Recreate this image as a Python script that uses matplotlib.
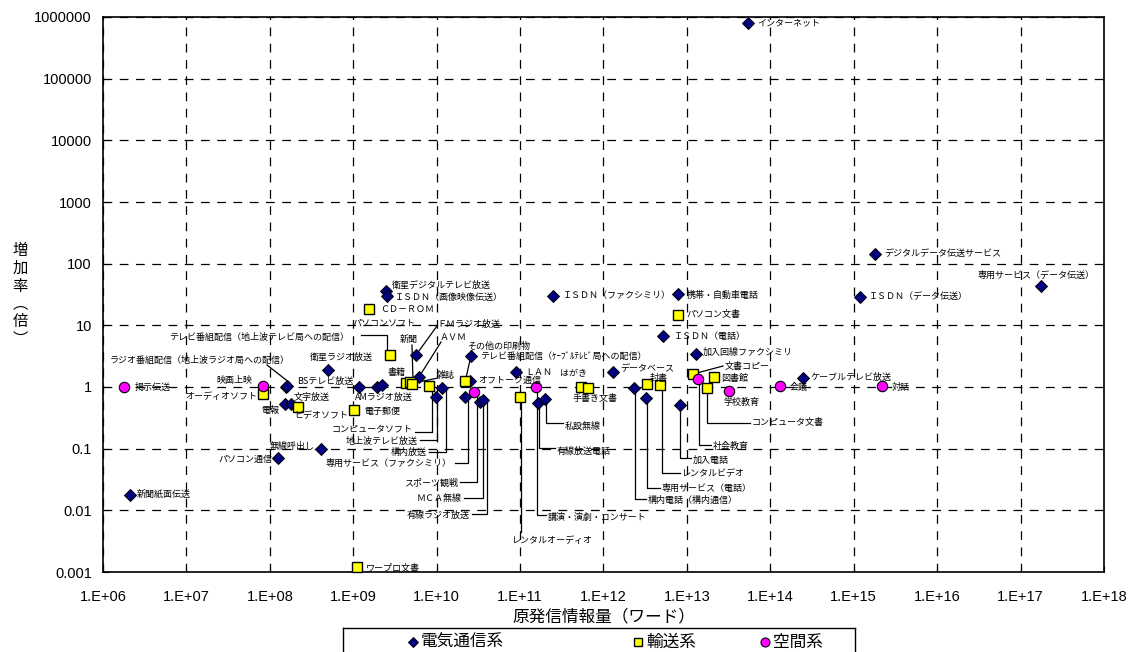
import matplotlib
matplotlib.use('Agg')
import matplotlib.pyplot as plt

plt.rcParams['font.family'] = ['Noto Sans CJK JP', 'DejaVu Sans']

# 電気通信系
tele_names = ['新聞紙面伝送', 'パソコン通信', '電報', 'BSテレビ放送',
              'ラジオ番組配信（地上波ラジオ局への配信）', '文字放送', '無線呼出し', '衛星ラジオ放送',
              'テレビ番組配信（地上波テレビ局への配信）', 'AMラジオ放送', '', '衛星デジタルテレビ放送',
              'ＩＳＤＮ（画像映像伝送）', 'ＦＭラジオ放送', 'ＡＶＭ', '地上波テレビ放送', '構内放送',
              '専用サービス（ファクシミリ）', 'オフトーク通信', 'テレビ番組配信（ｹｰﾌﾞﾙﾃﾚﾋﾞ局への配信）',
              'ＭＣＡ無線', '有線ラジオ放送', 'ＬＡＮ', '有線放送電話', '私設無線', 'ＩＳＤＮ（ファクシミリ）',
              'データベース', '構内電話（構内通信）', '専用サービス（電話）', 'ＩＳＤＮ（電話）',
              '携帯・自動車電話', '加入電話', '加入回線ファクシミリ', 'インターネット', 'ケーブルテレビ放送',
              'ＩＳＤＮ（データ伝送）', 'デジタルデータ伝送サービス', '専用サービス（データ伝送）']
tele_x = [2.1e6, 1.26e8, 1.5e8, 1.55e8, 1.6e8, 1.8e8, 4.1e8, 5.0e8, 1.17e9, 1.9e9, 2.2e9, 2.5e9,
          2.55e9, 5.6e9, 6.2e9, 9.8e9, 1.17e10, 2.2e10, 2.5e10, 2.6e10, 3.3e10, 3.6e10, 8.9e10,
          1.66e11, 2.0e11, 2.5e11, 1.3e12, 2.3e12, 3.2e12, 5.2e12, 7.9e12, 8.3e12, 1.29e13,
          5.4e13, 2.46e14, 1.18e15, 1.8e15, 1.74e17]
tele_y = [0.0175, 0.071, 0.54, 1.0, 1.03, 0.54, 0.099, 1.9, 1.0, 0.99, 1.07, 36.6,
          30, 3.3, 1.48, 0.68, 0.96, 0.69, 1.26, 3.2, 0.57, 0.62, 1.75,
          0.55, 0.64, 30, 1.72, 0.97, 0.66, 6.8, 32, 0.51, 3.4,
          8.0e5, 1.39, 29.3, 144, 43.6]

# 輸送系
trans_names = ['オーディオソフト', 'ビデオソフト', '電子郵便', 'ワープロ文書', 'ＣＤ－ＲＯＭ', 'パソコンソフト',
               '書籍', '新聞', '雑誌', 'コンピュータソフト', 'その他の印刷物', 'レンタルオーディオ', 'はがき',
               '手書き文書', '封書', 'レンタルビデオ', 'パソコン文書', '文書コピー', 'コンピュータ文書', '図書館']
trans_x = [8.2e7, 2.2e8, 1.02e9, 1.12e9, 1.55e9, 2.75e9, 4.3e9, 4.8e9, 5.1e9, 8.2e9, 2.2e10, 1.0e11,
           5.4e11, 6.6e11, 3.3e12, 4.8e12, 7.9e12, 1.18e13, 1.74e13, 2.1e13]
trans_y = [0.76, 0.47, 0.42, 0.0012, 18.5, 3.3, 1.16, 1.2, 1.12, 1.02, 1.27, 0.70, 1.0,
           0.97, 1.13, 1.06, 14.8, 1.62, 0.96, 1.48]

# 空間系
space_names = ['掲示伝送', '映画上映', 'スポーツ観戦', '講演・演劇・コンサート', '社会教育', '学校教育', '会議', '対話']
space_x = [1.8e6, 8.2e7, 2.8e10, 1.55e11, 1.35e13, 3.2e13, 1.32e14, 2.2e15]
space_y = [1.0, 1.05, 0.83, 1.0, 1.36, 0.85, 1.02, 1.03]

series_names = ['電気通信系', '輸送系', '空間系']

x_ticks = [10.0 ** k for k in range(6, 19)]
x_ticklabels = ['1.E+%02d' % k for k in range(6, 19)]
y_ticks = [0.001, 0.01, 0.1, 1, 10, 100, 1000, 10000, 100000, 1000000]
y_ticklabels = ['0.001', '0.01', '0.1', '1', '10', '100', '1000', '10000', '100000', '1000000']

# label placement (reference pixel coords): x, y, ha, leader polyline
labels = {
    '新聞紙面伝送': (137, 494, 'left', None),
    'パソコン通信': (272, 459, 'right', None),
    '電報': (261, 411, 'left', None),
    'BSテレビ放送': (297, 381, 'left', None),
    'ラジオ番組配信（地上波ラジオ局への配信）': (110, 360, 'left', [(267, 365), (290, 383)]),
    '文字放送': (294, 397, 'left', None),
    '無線呼出し': (315, 446, 'right', None),
    '衛星ラジオ放送': (310, 357, 'left', None),
    'テレビ番組配信（地上波テレビ局への配信）': (169, 337, 'left', None),
    'AMラジオ放送': (355, 397, 'left', None),
    '衛星デジタルテレビ放送': (392, 285, 'left', None),
    'ＩＳＤＮ（画像映像伝送）': (395, 297, 'left', None),
    'ＦＭラジオ放送': (437, 324, 'left', [(437, 326), (416, 355)]),
    'ＡＶＭ': (440, 337, 'left', [(441, 342), (419, 377)]),
    '地上波テレビ放送': (418, 441, 'right', [(420, 440), (437, 440), (437, 398)]),
    '構内放送': (427, 452, 'right', [(429, 452), (446, 452), (446, 389)]),
    '専用サービス（ファクシミリ）': (452, 463, 'right', [(455, 463), (468, 463), (468, 398)]),
    'オフトーク通信': (478, 380, 'left', None),
    'テレビ番組配信（ｹｰﾌﾞﾙﾃﾚﾋﾞ局への配信）': (480, 356, 'left', None),
    'ＭＣＡ無線': (462, 498, 'right', [(464, 498), (483, 498), (483, 403)]),
    '有線ラジオ放送': (470, 515, 'right', [(472, 514), (487, 514), (487, 400)]),
    'ＬＡＮ': (525, 372, 'left', None),
    '有線放送電話': (557, 451, 'left', [(539, 404), (539, 448), (555, 448)]),
    '私設無線': (565, 426, 'left', [(546, 400), (546, 423), (563, 423)]),
    'ＩＳＤＮ（ファクシミリ）': (563, 296, 'left', None),
    'データベース': (620, 369, 'left', None),
    '構内電話（構内通信）': (648, 500, 'left', [(635, 389), (635, 499), (646, 499)]),
    '専用サービス（電話）': (662, 488, 'left', [(647, 399), (647, 488), (660, 488)]),
    'ＩＳＤＮ（電話）': (674, 336, 'left', None),
    '携帯・自動車電話': (687, 295, 'left', None),
    '加入電話': (693, 460, 'left', [(680, 405), (680, 458), (691, 458)]),
    '加入回線ファクシミリ': (703, 352, 'left', None),
    'インターネット': (757, 23, 'left', None),
    'ケーブルテレビ放送': (810, 377, 'left', None),
    'ＩＳＤＮ（データ伝送）': (869, 297, 'left', None),
    'デジタルデータ伝送サービス': (884, 254, 'left', None),
    '専用サービス（データ伝送）': (1095, 275, 'right', None),
    'オーディオソフト': (257, 397, 'right', None),
    'ビデオソフト': (294, 416, 'left', None),
    '電子郵便': (364, 411, 'left', None),
    'ワープロ文書': (366, 568, 'left', None),
    'ＣＤ－ＲＯＭ': (380, 309, 'left', None),
    'パソコンソフト': (352, 323, 'left', [(361, 335), (387, 335), (387, 349)]),
    '書籍': (387, 373, 'left', None),
    '新聞': (400, 339, 'left', [(412, 345), (413, 380)]),
    '雑誌': (437, 375, 'left', [(438, 378), (414, 383)]),
    'コンピュータソフト': (413, 429, 'right', [(415, 432), (432, 432), (432, 391)]),
    'その他の印刷物': (467, 346, 'left', [(472, 351), (466, 378)]),
    'レンタルオーディオ': (512, 540, 'left', [(521, 401), (521, 532)]),
    'はがき': (560, 374, 'left', None),
    '手書き文書': (573, 399, 'left', None),
    '封書': (650, 378, 'left', None),
    'レンタルビデオ': (682, 474, 'left', [(662, 389), (662, 473), (680, 473)]),
    'パソコン文書': (686, 315, 'left', None),
    '文書コピー': (725, 366, 'left', [(697, 373), (723, 366)]),
    'コンピュータ文書': (752, 423, 'left', [(707, 392), (707, 423), (750, 423)]),
    '図書館': (721, 379, 'left', None),
    '掲示伝送': (135, 387, 'left', None),
    '映画上映': (252, 381, 'right', None),
    'スポーツ観戦': (458, 483, 'right', [(460, 482), (477, 482), (477, 396)]),
    '講演・演劇・コンサート': (548, 517, 'left', [(537, 391), (537, 515), (546, 515)]),
    '社会教育': (713, 446, 'left', [(699, 382), (699, 445), (711, 445)]),
    '学校教育': (723, 402, 'left', None),
    '会議': (790, 387, 'left', None),
    '対話': (892, 387, 'left', None),
}

L, R, T, B = 103, 1104, 17, 572


def frac(px, py):
    return (px - L) / (R - L), (B - py) / (B - T)


fig = plt.figure(figsize=(11.35, 6.52), dpi=100)
ax = fig.add_axes([L / 1135, 1 - B / 652, (R - L) / 1135, (B - T) / 652])
ax.set_xscale('log')
ax.set_yscale('log')
ax.set_xlim(1e6, 1e18)
ax.set_ylim(1e-3, 1e6)

tele_style = dict(marker='D', color='#000080', mec='black', mew=0.7, ms=6, ls='none')
trans_style = dict(marker='s', color='#FFFF00', mec='black', mew=1.0, ms=7, ls='none')
space_style = dict(marker='o', color='#FF00FF', mec='black', mew=0.8, ms=7.5, ls='none')

ax.plot(tele_x, tele_y, zorder=4, clip_on=False, **tele_style)
ax.plot(trans_x, trans_y, zorder=4, clip_on=False, **trans_style)
ax.plot(space_x, space_y, zorder=4, clip_on=False, **space_style)

for name, (px, py, ha, leader) in labels.items():
    fx, fy = frac(px, py)
    ax.text(fx, fy, name, transform=ax.transAxes, ha=ha, va='center', fontsize=6.5, zorder=5)
    if leader:
        xs = [frac(p[0], p[1])[0] for p in leader]
        ys = [frac(p[0], p[1])[1] for p in leader]
        ax.plot(xs, ys, transform=ax.transAxes, color='black', lw=0.9, zorder=3)

ax.minorticks_off()
ax.set_xticks(x_ticks)
ax.set_xticklabels(x_ticklabels, fontfamily='Liberation Sans', fontsize=10.5)
ax.set_yticks(y_ticks)
ax.set_yticklabels(y_ticklabels, fontfamily='Liberation Sans', fontsize=10.5)
ax.tick_params(axis='both', which='both', length=4, direction='in')
ax.tick_params(axis='x', pad=13)
ax.tick_params(axis='y', pad=8)
ax.grid(True, which='major', color='black', linestyle=(0, (7, 6)), linewidth=0.9)
for s in ax.spines.values():
    s.set_linewidth(1.2)

ax.set_xlabel('原発信情報量（ワード）', fontsize=12, labelpad=3)
fig.text(20 / 1135, 1 - 295 / 652, '増\n加\n率\n︵\n倍\n︶', ha='center', va='center',
         fontsize=11, linespacing=1.05)

# legend box drawn in reference pixel coords
lax = fig.add_axes([343 / 1135, 1 - 664 / 652, 512 / 1135, 36 / 652])
lax.set_xlim(343, 855)
lax.set_ylim(664, 628)
lax.set_xticks([])
lax.set_yticks([])
for s in lax.spines.values():
    s.set_linewidth(1.0)
leg_pos = [(413, 421), (638, 646), (765, 773)]
leg_styles = [tele_style, trans_style, space_style]
for (mx, tx), st, nm in zip(leg_pos, leg_styles, series_names):
    st2 = dict(st)
    st2['ms'] = st['ms'] - 1
    lax.plot([mx], [642], **st2)
    lax.text(tx, 642, nm, ha='left', va='center', fontsize=12)

fig.savefig('out.png', dpi=100)
